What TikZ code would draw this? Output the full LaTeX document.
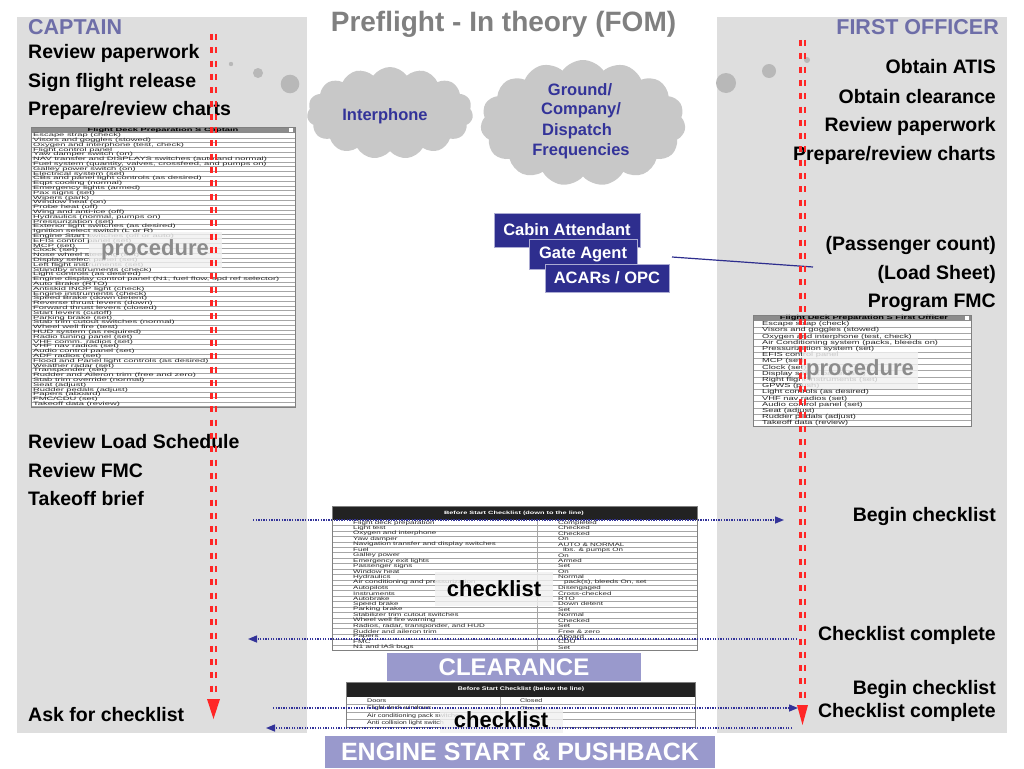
\documentclass[tikz,border=0pt]{standalone}
\usepackage{fontspec}
\setmainfont{Liberation Sans}
\newfontfamily\capfont[FakeStretch=1.95]{Liberation Sans}
\newfontfamily\fofont[FakeStretch=1.6]{Liberation Sans}
\newfontfamily\ckfont[FakeStretch=1.6]{Liberation Sans}
\newfontfamily\cktfont[FakeStretch=1.35]{Liberation Sans}
\usetikzlibrary{shapes.symbols,arrows.meta}
\definecolor{panel}{HTML}{DEDEDE}
\definecolor{dotc}{HTML}{B8B8B8}
\definecolor{cloudc}{HTML}{C8C8C8}
\definecolor{navy}{HTML}{2E2E8E}
\definecolor{navytext}{HTML}{333399}
\definecolor{lav}{HTML}{9999CC}
\definecolor{redc}{HTML}{FF2626}
\definecolor{titlec}{HTML}{808080}
\definecolor{rolec}{HTML}{6E6EA8}
\definecolor{hdrgray}{HTML}{8C8C8C}
\definecolor{ckhdr}{HTML}{222222}
\newcommand{\setfs}[1]{\fontsize{#1}{#1}\selectfont}
\begin{document}
\begin{tikzpicture}[x=1pt,y=-1pt,
  lbl/.style={font=\setfs{19.5}\bfseries, inner sep=0pt, anchor=base west},
  rlbl/.style={font=\setfs{19.5}\bfseries, inner sep=0pt, anchor=base east},
  role/.style={font=\setfs{21.5}\bfseries, text=rolec, inner sep=0pt},
  captxt/.style={font=\capfont\setfs{4.8}, inner sep=0pt, anchor=west, text=black!85},
  fotxt/.style={font=\fofont\setfs{5.8}, inner sep=0pt, anchor=west, text=black!85},
  cktxt/.style={font=\ckfont\setfs{5}, inner sep=0pt, anchor=west, text=black!85},
  ck2txt/.style={font=\cktfont\setfs{5.3}, inner sep=0pt, anchor=west, text=black!85},
  rowline/.style={draw=gray!70, line width=0.4pt},
  ovl/.style={fill=gray!12, fill opacity=0.8, text opacity=1, inner sep=0pt, font=\setfs{22}\bfseries},
  navybox/.style={fill=navy, draw=white!60!navy, line width=0.8pt, text=white, font=\setfs{16.5}\bfseries, inner sep=0pt},
  lavbox/.style={fill=lav, text=white, inner sep=0pt},
  reddash/.style={draw=redc, line width=2.4pt, dash pattern=on 6pt off 7.3pt},
  dotarrow/.style={draw=navytext, line width=1.4pt, dash pattern=on 1.3pt off 1.3pt, -{Triangle[length=9pt,width=7pt]}},
  cloudtxt/.style={font=\setfs{16.5}\bfseries, text=navytext, inner sep=0pt},
  cloudshape/.style={cloud, cloud puffs=15, cloud puff arc=110, fill=cloudc, inner sep=0pt}
]
\useasboundingbox (0,0) rectangle (1024,768);
\fill[white] (0,0) rectangle (1024,768);
% panels
\fill[panel] (17,17) rectangle (307,733);
\fill[panel] (717,17) rectangle (1007,733);
% decorative dots
\fill[dotc] (231,64) circle (2.2pt);
\fill[dotc] (258,73) circle (5pt);
\fill[dotc] (290,84) circle (9.3pt);
\fill[dotc] (726,83) circle (10pt);
\fill[dotc] (769,71) circle (7pt);
\fill[dotc] (807,60) circle (3pt);
% clouds
\node[cloudshape, aspect=1.8, minimum width=166pt, minimum height=92pt] (cloudA) at (390,113) {};
\node[cloudshape, aspect=1.6, minimum width=205pt, minimum height=126pt] (cloudB) at (583,123) {};
\node[cloudtxt] (interphone) at (385,116) {Interphone};
\node[cloudtxt] (gnd1) at (580,90) {Ground/};
\node[cloudtxt] (gnd2) at (581,110) {Company/};
\node[cloudtxt] (gnd3) at (577,131) {Dispatch};
\node[cloudtxt] (gnd4) at (581,151) {Frequencies};
% title and roles
\node[font=\setfs{28}\bfseries, text=titlec, inner sep=0pt, anchor=base] (title) at (503.5,32) {Preflight - In theory (FOM)};
\node[role, anchor=base west] (captain) at (28,35) {CAPTAIN};
\node[role, anchor=base east] (fo) at (999,35) {FIRST OFFICER};
% captain labels
\node[lbl] (c1) at (28,59) {Review paperwork};
\node[lbl] (c2) at (28,87) {Sign flight release};
\node[lbl] (c3) at (28,115) {Prepare/review charts};
\node[lbl] (c4) at (28,448) {Review Load Schedule};
\node[lbl] (c5) at (28,477) {Review FMC};
\node[lbl] (c6) at (28,505) {Takeoff brief};
\node[lbl] (c7) at (28,721) {Ask for checklist};
% first officer labels
\node[rlbl] (f1) at (996,74) {Obtain ATIS};
\node[rlbl] (f2) at (996,103) {Obtain clearance};
\node[rlbl] (f3) at (996,131) {Review paperwork};
\node[rlbl] (f4) at (996,160) {Prepare/review charts};
\node[rlbl] (f5) at (996,250) {(Passenger count)};
\node[rlbl] (f6) at (996,279) {(Load Sheet)};
\node[rlbl] (f7) at (996,307) {Program FMC};
\node[rlbl] (f8) at (996,521) {Begin checklist};
\node[rlbl] (f9) at (996,640) {Checklist complete};
\node[rlbl] (f10) at (996,694) {Begin checklist};
\node[rlbl] (f11) at (996,717) {Checklist complete};
% captain procedure table
\fill[white] (31,127) rectangle (295,407);
\fill[hdrgray] (31,127) rectangle (295,133);
\fill[white] (289,128) rectangle (293,132);
\node[font=\capfont\setfs{4.8}\bfseries, inner sep=0pt] (caphdr) at (163,130.3) {Flight Deck Preparation S Captain};
\foreach \t [count=\i] in {Escape strap (check), Visors and goggles (stowed), {Oxygen and interphone (test, check)}, Flight control panel, Yaw damper switch (on), NAV transfer and DISPLAYS switches (auto and normal), {Fuel system (quantity, valves, crossfeed, and pumps on)}, Galley power switch (on), Electrical system (set), CBs and panel light controls (as desired), Eqpt cooling (normal), Emergency lights (armed), Pax signs (set), Wipers (park), Window heat (on), Probe heat (off), Wing and anti-ice (off), {Hydraulics (normal, pumps on)}, Pressurization (set), Exterior light switches (as desired), Ignition select switch (L or R), Engine Start switches (off or auto), EFIS control panel (set), MCP (set), Clock (set), Nose wheel steering (set), Display select panel (set), Left flight instruments (set), Standby instruments (check), Light controls (as desired), {Engine display control panel (N1, fuel flow, spd ref selector)}, Auto Brake (RTO), Antiskid INOP light (check), Engine instruments (check), Speed Brake (down detent), Reverse thrust levers (down), Forward thrust levers (closed), Start levers (cutoff), Parking brake (set), Stab trim cutout switches (normal), Wheel well fire (test), HUD system (as required), Radio tuning panel (set), VHF comm. radios (set), VHF nav radios (set), Audio control panel (set), ADF radios (set), Flood and Panel light controls (as desired), Weather radar (set), Transponder (set), Rudder and Aileron trim (free and zero), Stab trim override (normal), Seat (adjust), Rudder pedals (adjust), Papers (aboard), FMC/CDU (set), Takeoff data (review)} {
  \node[captxt] (cap\i) at (33,{133+\i*4.8-2.4}) {\t};
  \draw[rowline] (31,{133+\i*4.8}) -- (295,{133+\i*4.8});
}
\draw[gray, line width=0.6pt] (31,127) rectangle (295,407);
\node[ovl, minimum width=133pt, minimum height=36pt, text=gray!90] (capproc) at (155,250) {procedure};
% first officer procedure table
\fill[white] (753,315) rectangle (971,426.4);
\fill[hdrgray] (753,315) rectangle (971,321);
\fill[white] (965,316) rectangle (969,320);
\node[font=\fofont\setfs{5.8}\bfseries, inner sep=0pt] (fohdr) at (864,318.2) {Flight Deck Preparation S First Officer};
\foreach \t [count=\i] in {Escape strap (check), Visors and goggles (stowed), {Oxygen and interphone (test, check)}, {Air Conditioning system (packs, bleeds on)}, Pressurization system (set), EFIS control panel, MCP (set), Clock (set), Display select panel (set), Right flight instruments (set), GPWS (push), Light controls (as desired), VHF nav radios (set), Audio control panel (set), Seat (adjust), Rudder pedals (adjust), Takeoff data (review)} {
  \node[fotxt] (fop\i) at (762,{321+\i*6.2-3.1}) {\t};
  \draw[rowline] (753,{321+\i*6.2}) -- (971,{321+\i*6.2});
}
\draw[gray, line width=0.6pt] (753,315) rectangle (971,426.4);
\node[ovl, minimum width=116pt, minimum height=37pt, text=gray!90] (foproc) at (860,370) {procedure};
% middle boxes
\node[navybox, minimum width=146pt, minimum height=34pt] (cabin) at (567,230) {Cabin Attendant};
\node[navybox, minimum width=108pt, minimum height=30pt] (gate) at (583,254) {Gate Agent};
\node[navybox, minimum width=124pt, minimum height=28pt] (acars) at (607,278) {ACARs / OPC};
\coordinate (gl1) at (672,257);
\coordinate (gl2) at (813,267);
\draw[navy, line width=1.2pt] (gl1) -- (gl2);
% checklist table 1
\fill[white] (332,506) rectangle (697,650.3);
\fill[ckhdr] (332,506) rectangle (697,520);
\node[font=\ckfont\setfs{4.6}\bfseries, text=white, inner sep=0pt] (ck1hdr) at (514,513) {Before Start Checklist (down to the line)};
\foreach \a/\b [count=\i] in {Flight deck preparation/Completed, Light test/Checked, Oxygen and interphone/Checked, Yaw damper/On, Navigation transfer and display switches/AUTO {\&} NORMAL, Fuel/\hspace{5pt}lbs. {\&} pumps On, Galley power/On, Emergency exit lights/Armed, Passenger signs/Set, Window heat/On, Hydraulics/Normal, Air conditioning and pressurization/{\hspace{6pt}pack(s), bleeds On, set}, Autopilots/Disengaged, Instruments/Cross-checked, Autobrake/RTO, Speed brake/Down detent, Parking brake/Set, Stabilizer trim cutout switches/Normal, Wheel well fire warning/Checked, {Radios, radar, transponder, and HUD}/Set, Rudder and aileron trim/Free {\&} zero, Papers/Aboard, FMC/CDU/Set, N1 and IAS bugs/Set} {
  \node[cktxt] (ckl\i) at (353,{520+\i*5.43-2.7}) {\a};
  \node[cktxt] (ckr\i) at (558,{520+\i*5.43-2.7}) {\b};
  \draw[rowline] (332,{520+\i*5.43}) -- (697,{520+\i*5.43});
}
\draw[gray!70, line width=0.6pt] (537,520) -- (537,650.3);
\draw[gray, line width=0.6pt] (332,506) rectangle (697,650.3);
\node[ovl, minimum width=118pt, minimum height=34pt, text=black] (ck1ovl) at (494,589) {checklist};
% clearance
\node[lavbox, font=\setfs{24}\bfseries, minimum width=254pt, minimum height=28pt] (clear) at (514,667) {CLEARANCE};
% checklist table 2
\fill[white] (346,682) rectangle (695,727);
\fill[ckhdr] (346,682) rectangle (695,697);
\node[font=\cktfont\setfs{5.2}\bfseries, text=white, inner sep=0pt] (ck2hdr) at (521,689.5) {Before Start Checklist (below the line)};
\foreach \a/\b [count=\i] in {Doors/Closed, Flight deck windows/Closed, Air conditioning pack switches/{}, Anti collision light switch/{}} {
  \node[ck2txt] (ckb\i) at (367,{697+\i*7.5-3.6}) {\a};
  \node[ck2txt] (ckc\i) at (520,{697+\i*7.5-3.6}) {\b};
  \draw[rowline] (346,{697+\i*7.5}) -- (695,{697+\i*7.5});
}
\draw[gray!70, line width=0.6pt] (500,697) -- (500,727);
\draw[gray, line width=0.6pt] (346,682) rectangle (695,727);
\node[ovl, minimum width=123pt, minimum height=25pt, text=black] (ck2ovl) at (501,720) {checklist};
% engine start
\node[lavbox, font=\setfs{25}\bfseries, minimum width=390pt, minimum height=32pt] (engine) at (520,752) {ENGINE START \& PUSHBACK};
% red timelines
\coordinate (capTop) at (213.5,34);
\coordinate (capEnd) at (213.5,700);
\coordinate (capTip) at (213.5,719);
\draw[reddash] ([xshift=-2.2pt]capTop) -- ([xshift=-2.2pt]capEnd);
\draw[reddash] ([xshift=2.2pt]capTop) -- ([xshift=2.2pt]capEnd);
\fill[redc] (capTip) -- ++(-6.5,-20) -- ++(13,0) -- cycle;
\coordinate (foTop) at (802.5,40);
\coordinate (foEnd) at (802.5,705);
\coordinate (foTip) at (802.5,725);
\draw[reddash] ([xshift=-2.2pt]foTop) -- ([xshift=-2.2pt]foEnd);
\draw[reddash] ([xshift=2.2pt]foTop) -- ([xshift=2.2pt]foEnd);
\fill[redc] (foTip) -- ++(-5.5,-20) -- ++(11,0) -- cycle;
% dotted arrows
\coordinate (bc1s) at (253,520);
\coordinate (bc1e) at (784,520);
\coordinate (cc1s) at (797,639);
\coordinate (cc1e) at (248,639);
\coordinate (bc2s) at (273,708);
\coordinate (bc2e) at (798,708);
\coordinate (cc2s) at (792,728);
\coordinate (cc2e) at (266,728);
\draw[dotarrow] (bc1s) -- (bc1e);
\draw[dotarrow] (cc1s) -- (cc1e);
\draw[dotarrow] (bc2s) -- (bc2e);
\draw[dotarrow] (cc2s) -- (cc2e);
\end{tikzpicture}
\end{document}
